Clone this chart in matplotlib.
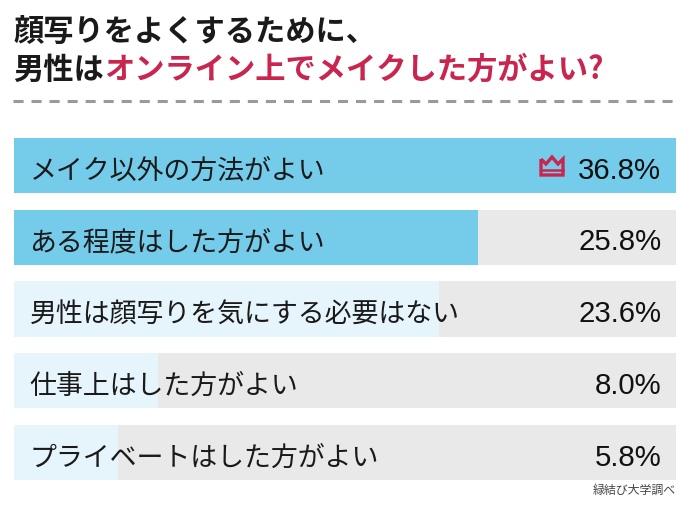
import matplotlib
matplotlib.use("Agg")
import matplotlib.pyplot as plt
from matplotlib.patches import PathPatch
from matplotlib.path import Path

plt.rcParams['font.family'] = ['Noto Sans CJK JP', 'DejaVu Sans']

labels = ["メイク以外の方法がよい", "ある程度はした方がよい", "男性は顔写りを気にする必要はない",
          "仕事上はした方がよい", "プライベートはした方がよい"]
values = [36.8, 25.8, 23.6, 8.0, 5.8]
title_1 = "顔写りをよくするために、"
title_2a = "男性は"
title_2b = "オンライン上でメイクした方がよい?"
source = "緑結び大学調べ"

W, H = 690, 510
fig = plt.figure(figsize=(W / 100, H / 100), dpi=100, facecolor="white")

# axes spans the five row slots, in pixels
ax = fig.add_axes([14 / W, 1 - 489.4 / H, 662 / W, 358.8 / H])
ax.set_xlim(0, max(values))
ax.set_ylim(4.5, -0.5)
ax.axis("off")

ypos = list(range(len(values)))
bar_h = 0.767
colors = ["#75cbea", "#75cbea", "#e6f5fb", "#e6f5fb", "#e6f5fb"]
ax.barh(ypos, [max(values)] * len(values), height=bar_h, color="#e9e9e9", linewidth=0)
ax.barh(ypos, values, height=bar_h, color=colors, linewidth=0)

for y, lab, val in zip(ypos, labels, values):
    ax.text(0.86, y + 0.028, lab, fontsize=19.4, color="#1a1a1a", va="center_baseline", ha="left")
    ax.text(35.98, y + 0.015, "%.1f%%" % val, fontsize=21.2, color="#111111", va="center_baseline",
            ha="right", family="Liberation Sans")

# title, second line is two colours so measure the first piece
fig.text(13 / W, 1 - 32 / H, title_1, fontsize=21.8, fontweight="bold", color="#1a1a1a", va="center")
t = fig.text(13 / W, 1 - 70 / H, title_2a, fontsize=21.8, fontweight="bold", color="#1a1a1a", va="center")
fig.canvas.draw()
bb = t.get_window_extent()
fig.text(bb.x1 / W, 1 - 70 / H, title_2b, fontsize=21.8, fontweight="bold", color="#c9264f", va="center")

# dashed rule under the title
fig.add_artist(plt.Line2D([13 / W, 676 / W], [1 - 102 / H, 1 - 102 / H], color="#9a9a9a", lw=2.2,
                          dashes=(3.3, 2.6)))

fig.text(676 / W, 1 - 490 / H, source, fontsize=8.6, color="#444444", ha="right", va="center")

# crown icon next to the top value
def px(x, y):
    return (x / W, 1 - y / H)

crown = [px(541, 160), px(546, 165), px(552, 158), px(558, 165), px(563, 160), px(563, 176),
         px(541, 176), px(541, 160)]
fig.add_artist(PathPatch(Path(crown), facecolor="none", edgecolor="#c9264f", lw=2.4,
                         transform=fig.transFigure))
fig.add_artist(plt.Line2D([541 / W, 563 / W], [1 - 170.5 / H, 1 - 170.5 / H], color="#c9264f", lw=1.8))

fig.savefig("out.png", dpi=100, facecolor="white")
